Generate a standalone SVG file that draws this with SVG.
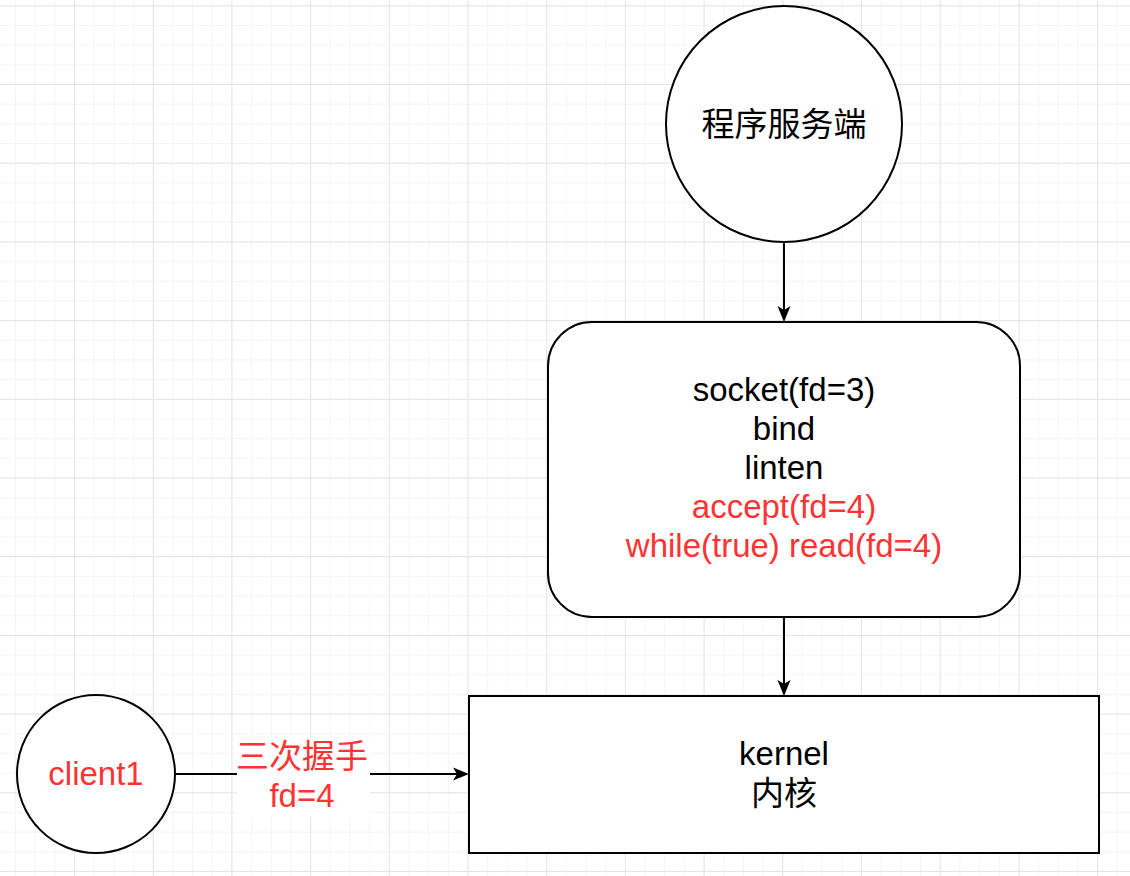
<svg xmlns="http://www.w3.org/2000/svg" width="1130" height="876" viewBox="0 0 1130 876">
  <style>
    .shape { fill: #ffffff; stroke: #000000; stroke-width: 2; }
    .edge { fill: none; stroke: #000000; stroke-width: 2; }
    .t { font-family: "Liberation Sans", "Noto Sans CJK SC", Arial, sans-serif; font-size: 33px; text-anchor: middle; fill: #000000; }
    .red { fill: #FF3333; }
  </style>
  <defs>
    <pattern id="minor" x="74" y="5.3" width="19.675" height="19.675" patternUnits="userSpaceOnUse">
      <path d="M0,0 V19.675 M0,0 H19.675" fill="none" stroke="#f0f0f0" stroke-width="1.3"/>
    </pattern>
    <pattern id="major" x="74" y="5.3" width="78.7" height="78.7" patternUnits="userSpaceOnUse">
      <path d="M0,0 V78.7 M0,0 H78.7" fill="none" stroke="#dedede" stroke-width="1.3"/>
    </pattern>
    <marker id="arrow" viewBox="0 0 16 14" markerWidth="16" markerHeight="14" refX="12" refY="7" orient="auto" markerUnits="userSpaceOnUse">
      <path d="M0,0.5 L16,7 L0,13.5 L4,7 z" fill="#000000"/>
    </marker>
  </defs>
  <rect width="1130" height="876" fill="#ffffff"/>
  <rect width="1130" height="876" fill="url(#minor)"/>
  <rect width="1130" height="876" fill="url(#major)"/>

  <g id="connectors">
    <line class="edge" x1="784" y1="242" x2="784" y2="318" marker-end="url(#arrow)"/>
    <line class="edge" x1="784" y1="617" x2="784" y2="692" marker-end="url(#arrow)"/>
    <line class="edge" x1="175" y1="774" x2="465" y2="774" marker-end="url(#arrow)"/>
    <g id="edge-label">
      <rect x="237" y="738" width="133" height="78" fill="#ffffff"/>
      <text class="t red" x="302" y="768">三次握手</text>
      <text class="t red" x="302" y="807">fd=4</text>
    </g>
  </g>

  <g id="server">
    <circle class="shape" cx="784" cy="124" r="118"/>
    <text class="t" x="784" y="136">程序服务端</text>
  </g>

  <g id="process">
    <rect class="shape" x="548" y="322" width="472" height="295" rx="44" ry="44"/>
    <text class="t" x="784" y="401">socket(fd=3)</text>
    <text class="t" x="784" y="440">bind</text>
    <text class="t" x="784" y="479">linten</text>
    <text class="t red" x="784" y="518">accept(fd=4)</text>
    <text class="t red" x="784" y="557">while(true) read(fd=4)</text>
  </g>

  <g id="kernel">
    <rect class="shape" x="469" y="696" width="630" height="157"/>
    <text class="t" x="784" y="765">kernel</text>
    <text class="t" x="784" y="805">内核</text>
  </g>

  <g id="client1">
    <circle class="shape" cx="96" cy="774" r="79"/>
    <text class="t red" x="96" y="785">client1</text>
  </g>
</svg>
